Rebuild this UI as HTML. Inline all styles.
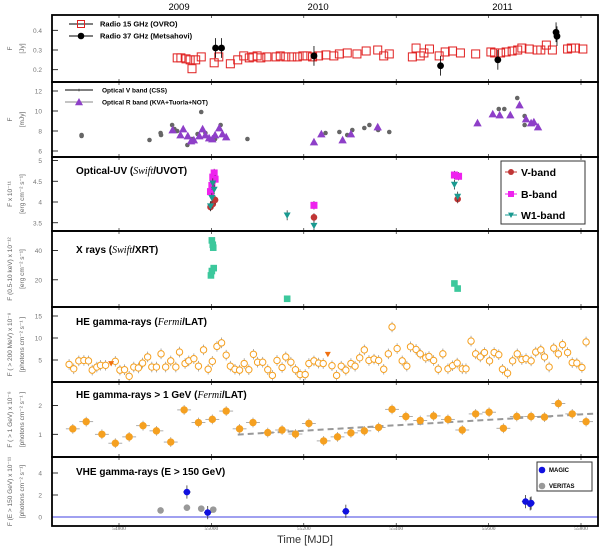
<!DOCTYPE html>
<html><head><meta charset="utf-8"><style>
html,body{margin:0;padding:0;background:#fff;}
svg{display:block;font-family:"Liberation Sans",sans-serif;}
</style></head><body>
<svg id="chart" width="600" height="546" viewBox="0 0 600 546" xmlns="http://www.w3.org/2000/svg"></svg>
<script>
// ---------- data ----------
const radio15Mjd=[54926,54934,54945,54954,54958,54966,54978,55006,55016,55041,55057,55070,55082,55090,55099,55107,55120,55140,55149,55161,55174,55186,55198,55207,55219,55232,55248,55265,55277,55294,55315,55335,55360,55373,55385,55435,55443,55452,55460,55472,55493,55506,55522,55539,55572,55605,55613,55626,55638,55651,55663,55672,55688,55705,55713,55725,55738,55771,55779,55788,55804];
const radio15Flux=[0.26,0.26,0.255,0.25,0.205,0.25,0.265,0.235,0.265,0.23,0.25,0.27,0.26,0.265,0.27,0.26,0.265,0.265,0.27,0.265,0.265,0.265,0.27,0.27,0.265,0.27,0.275,0.27,0.28,0.285,0.28,0.295,0.30,0.27,0.28,0.265,0.31,0.27,0.285,0.305,0.27,0.29,0.295,0.285,0.28,0.29,0.285,0.285,0.29,0.295,0.30,0.31,0.305,0.30,0.30,0.325,0.30,0.305,0.31,0.31,0.305];
const radio37Mjd=[55009,55022,55222,55496,55620,55746,55748];
const radio37Flux=[0.31,0.31,0.27,0.22,0.25,0.39,0.37];
const optVMjd=[54719,54719,54866,54890,54891,54915,54920,54926,54948,54958,54970,54978,54987,55008,55020,55078,55247,55277,55294,55305,55331,55342,55361,55385,55622,55634,55662,55678,55678];
const optVFlux=[7.6,7.5,7.1,7.8,7.6,8.6,8.2,8.0,6.6,7.2,7.7,9.9,7.8,7.2,8.6,7.2,7.8,7.9,7.6,8.1,8.3,8.6,8.1,7.9,10.2,10.2,11.3,9.5,8.6];
const optRMjd=[54916,54933,54939,54949,54956,54962,54974,54981,54987,54995,55002,55008,55017,55024,55032,55222,55238,55284,55302,55360,55576,55609,55624,55647,55667,55681,55692,55698,55707];
const optRFlux=[8.1,7.6,8.2,7.5,7.0,7.1,7.5,8.2,7.6,7.3,7.2,7.6,8.3,7.7,7.4,6.9,7.7,7.1,7.7,8.4,8.8,9.7,9.6,9.6,10.6,9.2,8.8,8.9,8.4];
const uvVMjd=[54998,55003,55008,55222,55533];
const uvVFlux=[3.88,3.95,4.05,3.63,4.07];
const uvBMjd=[54998,55001,55003,55006,55008,55222,55526,55535];
const uvBFlux=[4.25,4.4,4.6,4.7,4.55,3.92,4.65,4.62];
const uvW1Mjd=[54998,55001,55003,55006,55164,55222,55526,55533];
const uvW1Flux=[3.9,4.1,4.45,4.3,3.68,3.43,4.42,4.13];
const xrtMjd=[55001,55003,55004,55001,55005,54999,55164,55526,55533];
const xrtFlux=[47,44,42,26,28,23,7,17.5,14];
const heMjd=[54692,54702,54713,54724,54734,54742,54752,54760,54771,54792,54802,54812,54822,54832,54842,54851,54862,54871,54881,54891,54901,54912,54923,54931,54943,54951,54962,54972,54983,54993,55002,55012,55022,55032,55041,55051,55061,55071,55081,55091,55100,55111,55122,55132,55142,55153,55161,55172,55182,55192,55203,55211,55222,55232,55242,55261,55271,55281,55291,55302,55311,55321,55331,55341,55352,55362,55373,55383,55391,55402,55413,55423,55431,55443,55452,55464,55471,55481,55491,55501,55512,55522,55532,55543,55551,55562,55572,55582,55591,55602,55612,55622,55630,55641,55652,55662,55672,55681,55692,55702,55713,55721,55731,55741,55751,55760,55771,55781,55791,55802,55811];
const heFlux=[4.0,3.0,4.8,4.9,4.8,2.7,3.4,3.8,3.8,4.7,2.7,2.8,1.3,3.4,3.2,4.3,5.7,3.4,3.4,6.4,3.4,4.8,3.4,6.8,4.2,4.8,5.3,3.6,7.3,2.9,4.7,8.1,8.9,6.1,3.6,2.9,2.7,4.2,2.8,6.3,4.5,4.5,2.8,1.5,4.9,3.3,5.7,4.5,2.8,1.7,1.7,4.2,4.8,4.3,4.2,3.7,1.5,3.6,2.7,4.2,3.6,5.5,7.3,4.9,5.2,4.9,2.9,6.4,12.5,7.6,4.8,3.6,8.0,7.4,6.4,5.5,5.8,4.9,2.9,6.4,3.0,3.7,4.3,3.0,3.0,9.3,6.4,5.7,6.7,4.8,6.7,6.2,2.9,2.0,4.8,6.4,5.1,5.3,4.8,6.8,7.3,5.7,3.4,7.7,6.4,8.5,6.7,4.4,4.3,3.3,9.1];
const heUlMjd=[54783,55252];
const heUlFlux=[4.2,6.3];
const gevMjd=[54700,54729,54763,54792,54822,54852,54881,54912,54941,54972,55002,55032,55061,55090,55122,55153,55182,55211,55243,55273,55302,55331,55362,55391,55421,55452,55481,55512,55543,55572,55601,55632,55661,55692,55721,55751,55781,55811];
const gevFlux=[1.19,1.44,1.0,0.69,0.91,1.30,1.12,0.73,1.85,1.41,1.52,1.81,1.19,1.41,1.06,1.15,1.01,1.38,0.77,0.91,1.05,1.12,1.24,1.87,1.62,1.48,1.64,1.52,1.15,1.71,1.77,1.21,1.62,1.62,1.60,2.07,1.71,1.44];
const trendMjd=[55057,55839];
const trendFlux=[0.99,1.73];
const magicMjd=[54947,54992,55291,55680,55690,55692];
const magicFlux=[2.27,0.4,0.52,1.4,1.2,1.27];
const veritasMjd=[54890,54947,54978,55004];
const veritasFlux=[0.6,0.85,0.76,0.67];
const xTicks=[54800,55000,55200,55400,55600,55800];
const xTickLabels=["54800","55000","55200","55400","55600","55800"];
const yearLabels=["2009","2010","2011"];
const yearMjd=[54930,55231,55630];

// ---------- layout ----------
const NS="http://www.w3.org/2000/svg";
const svg=document.getElementById('chart');
const L=52,R=598;
function X(m){return 119+(m-54800)*0.462;}
const panels=[
 {t:15,b:82,y:v=>50-(v-0.3)*197,ticks:[0.2,0.3,0.4],lab:["0.2","0.3","0.4"],name:'radio'},
 {t:82,b:157,y:v=>111-(v-10)*10,ticks:[6,8,10,12],lab:["6","8","10","12"],name:'optical'},
 {t:157,b:231,y:v=>202-(v-4)*41.5,ticks:[3.5,4,4.5,5],lab:["3.5","4","4.5","5"],name:'uvot'},
 {t:231,b:307,y:v=>309-v*1.46,ticks:[20,40],lab:["20","40"],name:'xray'},
 {t:307,b:382,y:v=>382-v*4.4,ticks:[5,10,15],lab:["5","10","15"],name:'he-gamma'},
 {t:382,b:457,y:v=>463-v*28.7,ticks:[1,2],lab:["1","2"],name:'gev-gamma'},
 {t:457,b:526,y:v=>517-v*11,ticks:[0,2,4],lab:["0","2","4"],name:'vhe-gamma'}
];
function mk(tag,a,p){const e=document.createElementNS(NS,tag);for(const k in a)e.setAttribute(k,a[k]);(p||svg).appendChild(e);return e;}
const defs=mk('defs',{});
panels.forEach((p,i)=>{const c=mk('clipPath',{id:'clip'+i},defs);mk('rect',{x:L,y:p.t,width:R-L,height:p.b-p.t},c);});

panels.forEach((p,i)=>{
  const g=mk('g',{});
  
  
  p.ticks.forEach((v,j)=>{
    const yy=p.y(v);
    const tk=mk('line',{x1:L,x2:L+6,y1:yy,y2:yy,stroke:'#000','stroke-width':0.8},g);
    
    
    const tl=mk('text',{x:L-10,y:yy+2.5,'text-anchor':'end','font-size':6.5,fill:'#777'},g);
    tl.textContent=p.lab[j];
    
    
  });
  xTicks.forEach(m=>{
    const xx=X(m);
    const a=mk('line',{x1:xx,x2:xx,y1:p.b,y2:p.b-3,stroke:'#000','stroke-width':0.6},g);
    
    
    const b=mk('line',{x1:xx,x2:xx,y1:p.t,y2:p.t+3,stroke:'#000','stroke-width':0.6},g);
    
    
  });
});

const yTitles=[["F","[Jy]"],["F","[mJy]"],["F  x 10\u207B\u00B9\u00B9","[erg cm\u207B\u00B2 s\u207B\u00B9]"],["F (0.5-10 keV) x 10\u207B\u00B9\u00B2","[erg cm\u207B\u00B2 s\u207B\u00B9]"],["F ( > 200 MeV) x 10\u207B\u2078","[photons cm\u207B\u00B2 s\u207B\u00B9 ]"],["F ( > 1 GeV) x 10\u207B\u2078","[photons cm\u207B\u00B2 s\u207B\u00B9 ]"],["F (E > 150 GeV) x 10\u207B\u00B9\u00B9","[photons cm\u207B\u00B2 s\u207B\u00B9]"]];
panels.forEach((p,i)=>{
  const cy=(p.t+p.b)/2;
  [0,1].forEach(k=>{
    const xx=k?24:12;
    const t=mk('text',{x:xx,y:cy,transform:`rotate(-90 ${xx} ${cy})`,'text-anchor':'middle','font-size':6.5,fill:'#666'});
    t.textContent=yTitles[i][k];
    
    
  });
});

xTicks.forEach((m,j)=>{
  const t=mk('text',{x:X(m),y:530,'text-anchor':'middle','font-size':5.5,fill:'#666','font-family':'Liberation Serif, serif'});
  t.textContent=xTickLabels[j];
  
  
});
const xt=mk('text',{x:305,y:543,'text-anchor':'middle','font-size':11,fill:'#333'});
xt.textContent='Time [MJD]';


yearLabels.forEach((s,j)=>{
  const t=mk('text',{x:X(yearMjd[j]),y:10,'text-anchor':'middle','font-size':9.5,fill:'#000'});
  t.textContent=s;
  
  
});

function G(i,name){const g=mk('g',{'clip-path':`url(#clip${i})`});return g;}
function marker(g,type,x,y,s,fill,stroke){
  let e;
  if(type==='circle')e=mk('circle',{cx:x,cy:y,r:s,fill:fill,stroke:stroke||'none','stroke-width':1},g);
  else if(type==='square')e=mk('rect',{x:x-s,y:y-s,width:2*s,height:2*s,fill:fill,stroke:stroke||'none','stroke-width':1},g);
  else if(type==='up')e=mk('polygon',{points:`${x},${y-s} ${x-s},${y+s*0.8} ${x+s},${y+s*0.8}`,fill:fill},g);
  else e=mk('polygon',{points:`${x},${y+s} ${x-s},${y-s*0.8} ${x+s},${y-s*0.8}`,fill:fill},g);
  return e;
}
function vbar(g,x,y1,y2,col,w){const e=mk('line',{x1:x,x2:x,y1:y1,y2:y2,stroke:col,'stroke-width':w||0.8},g);return e;}

let g=G(0,'radio-series');
radio15Mjd.forEach((m,j)=>{const e=marker(g,'square',X(m),panels[0].y(radio15Flux[j]),4,'none','#e02020');

});
radio37Mjd.forEach((m,j)=>{const p=panels[0];vbar(g,X(m),p.y(radio37Flux[j]+0.05),p.y(radio37Flux[j]-0.05),'#000');
const e=marker(g,'circle',X(m),p.y(radio37Flux[j]),3.4,'#000');

});
g=G(1,'optical-series');
optVMjd.forEach((m,j)=>{const e=marker(g,'circle',X(m),panels[1].y(optVFlux[j]),2.3,'#666');

});
optRMjd.forEach((m,j)=>{const e=marker(g,'up',X(m),panels[1].y(optRFlux[j]),4.2,'#8e3fc8');

});
g=G(2,'uvot-series');
uvBMjd.forEach((m,j)=>{const p=panels[2];vbar(g,X(m),p.y(uvBFlux[j]+0.1),p.y(uvBFlux[j]-0.1),'#333');
const e=marker(g,'square',X(m),p.y(uvBFlux[j]),3.5,'#ee22ee');

});
uvVMjd.forEach((m,j)=>{const p=panels[2];vbar(g,X(m),p.y(uvVFlux[j]+0.1),p.y(uvVFlux[j]-0.1),'#333');
const e=marker(g,'circle',X(m),p.y(uvVFlux[j]),3.3,'#c03535');

});
uvW1Mjd.forEach((m,j)=>{const p=panels[2];vbar(g,X(m),p.y(uvW1Flux[j]+0.12),p.y(uvW1Flux[j]-0.12),'#333');
const e=marker(g,'down',X(m),p.y(uvW1Flux[j]),3.5,'#1a9a90');

});
g=G(3,'xray-series');
xrtMjd.forEach((m,j)=>{const e=marker(g,'square',X(m),panels[3].y(xrtFlux[j]),3.3,'#3cc89c');

});
g=G(4,'he-gamma-series');
heMjd.forEach((m,j)=>{const p=panels[4];vbar(g,X(m),p.y(heFlux[j]+1.2),p.y(heFlux[j]-1.2),'#999');
const e=marker(g,'circle',X(m),p.y(heFlux[j]),3.2,'#fff','#f5a020');

});
heUlMjd.forEach((m,j)=>{const e=marker(g,'down',X(m),panels[4].y(heUlFlux[j]),3,'#f07010');

});
g=G(5,'gev-gamma-series');
const tr=mk('line',{x1:X(trendMjd[0]),y1:panels[5].y(trendFlux[0]),x2:X(trendMjd[1]),y2:panels[5].y(trendFlux[1]),stroke:'#999','stroke-width':2,'stroke-dasharray':'6,4'},g);


gevMjd.forEach((m,j)=>{const p=panels[5];const x=X(m),y=p.y(gevFlux[j]);
vbar(g,x,p.y(gevFlux[j]+0.17),p.y(gevFlux[j]-0.17),'#999');
mk('line',{x1:X(m-15),x2:X(m+15),y1:y,y2:y,stroke:'#999','stroke-width':0.8},g);
const e=marker(g,'circle',x,y,3.7,'#f5a020');

});
g=G(6,'vhe-gamma-series');
const zl=mk('line',{x1:L,x2:R,y1:panels[6].y(0),y2:panels[6].y(0),stroke:'#4040e0','stroke-width':1},g);


veritasMjd.forEach((m,j)=>{const e=marker(g,'circle',X(m),panels[6].y(veritasFlux[j]),3.3,'#999');

});
magicMjd.forEach((m,j)=>{const p=panels[6];vbar(g,X(m),p.y(magicFlux[j]+0.6),p.y(magicFlux[j]-0.6),'#333');
mk('line',{x1:X(m-8),x2:X(m+8),y1:p.y(magicFlux[j]),y2:p.y(magicFlux[j]),stroke:'#333','stroke-width':0.8},g);
const e=marker(g,'circle',X(m),p.y(magicFlux[j]),3.3,'#1010e0');

});

panels.forEach(p=>{const r=mk('rect',{x:L,y:p.t,width:R-L,height:p.b-p.t,fill:'none',stroke:'#000','stroke-width':1.8});

});

function title(x,y,parts,name){const t=mk('text',{x:x,y:y,'font-size':10,'font-weight':'bold',fill:'#000'});
parts.forEach(pt=>{const s=mk('tspan',{},t);s.textContent=pt[0];if(pt[1]){s.setAttribute('font-family','Liberation Serif, serif');s.setAttribute('font-style','italic');s.setAttribute('font-weight','normal');}});

}
title(76,174,[["Optical-UV ("],["Swift",1],["/UVOT)"]],'uvot-title');
title(76,253,[["X rays ("],["Swift",1],["/XRT)"]],'xray-title');
title(76,325,[["HE gamma-rays ("],["Fermi",1],["/LAT)"]],'he-gamma-title');
title(76,398,[["HE gamma-rays > 1 GeV ("],["Fermi",1],["/LAT)"]],'gev-gamma-title');
title(76,475,[["VHE gamma-rays (E > 150 GeV)"]],'vhe-gamma-title');

function legItem(x1,x2,y,type,col,stroke,size,text,tx,fs,bold,name){
  const g=mk('g',{});
  
  
  mk('line',{x1:x1,x2:x2,y1:y,y2:y,stroke:stroke,'stroke-width':1},g);
  marker(g,type,(x1+x2)/2,y,size,col,type==='square'&&col==='none'?'#e02020':null);
  const t=mk('text',{x:tx,y:y+fs*0.36,'font-size':fs,'font-weight':bold?'bold':'normal',fill:'#000'},g);
  t.textContent=text;
}
legItem(69,93,24,'square','none','#000',3.5,'Radio 15 GHz (OVRO)',100,7.5,1,'legend-radio-15ghz');
legItem(69,93,36,'circle','#000','#000',3.3,'Radio 37 GHz (Metsahovi)',100,7.5,1,'legend-radio-37ghz');
legItem(65,93,90,'circle','#666','#000',1.3,'Optical V band (CSS)',102,6.5,1,'legend-optical-v');
legItem(65,93,102,'up','#8e3fc8','#888',4,'Optical R band (KVA+Tuorla+NOT)',102,6.5,1,'legend-optical-r');
const lb=mk('rect',{x:501,y:161,width:84,height:63,fill:'#fff',stroke:'#333','stroke-width':1});


legItem(505,517,172,'circle','#c03535','#c03535',3,'V-band',521,10.5,1,'legend-v-band');
legItem(505,517,194,'square','#ee22ee','#ee22ee',3,'B-band',521,10.5,1,'legend-b-band');
legItem(505,517,215,'down','#1a9a90','#1a9a90',3,'W1-band',521,10.5,1,'legend-w1-band');
const vb=mk('rect',{x:537,y:462,width:55,height:29,fill:'#fff',stroke:'#333','stroke-width':1});


legItem(540,544,470,'circle','#1010e0','#1010e0',3.3,'MAGIC',549,6,1,'legend-magic');
legItem(540,544,486,'circle','#999','#999',3.3,'VERITAS',549,6,1,'legend-veritas');
</script>
</body></html>
